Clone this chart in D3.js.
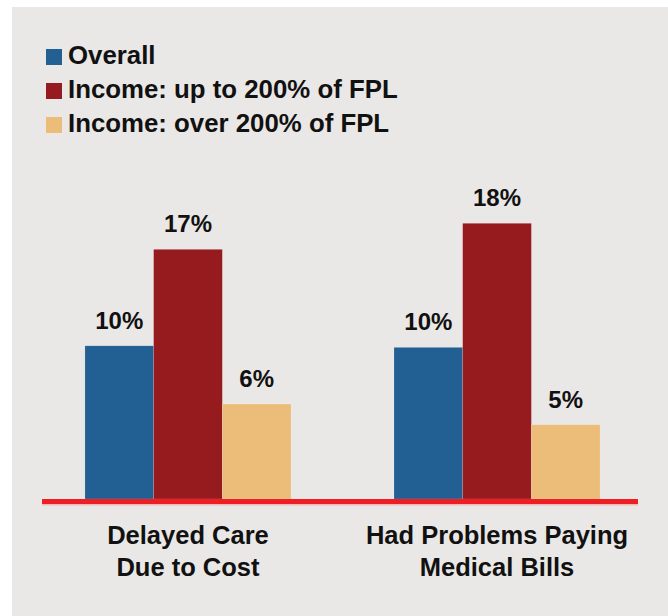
<!DOCTYPE html>
<html>
<head>
<meta charset="utf-8">
<script src="https://cdn.jsdelivr.net/npm/d3@7"></script>
<style>
  html, body { margin: 0; padding: 0; background: #ffffff; }
  svg { display: block; }
</style>
</head>
<body>
<svg id="chart"></svg>
<script>
const width = 668;
const height = 616;

// Groups along the x axis, one entry per text line
const categories = ["Delayed Care|Due to Cost", "Had Problems Paying|Medical Bills"];

// Series, in legend order
const seriesNames = ["Overall", "Income: up to 200% of FPL", "Income: over 200% of FPL"];
const seriesColors = ["#225f93", "#951b1f", "#ebbd78"];

// Bar heights (percent)
const overallValues = [10, 9.9];
const lowIncomeValues = [16.3, 18.0];
const highIncomeValues = [6.2, 4.85];

// Printed labels above the bars
const overallLabels = ["10%", "10%"];
const lowIncomeLabels = ["17%", "18%"];
const highIncomeLabels = ["6%", "5%"];

const seriesValues = [overallValues, lowIncomeValues, highIncomeValues];
const seriesLabels = [overallLabels, lowIncomeLabels, highIncomeLabels];

const layout = {panel: {left: 12, top: 7},
    plot: {left: 42, right: 643, lineRight: 638, baseline: 499, top: 223.3},
    legend: {x: 46, y: 49, box: 16, step: 34, textX: 68},
    font: "'Liberation Sans', Arial, sans-serif"};

const svg = d3.select("#chart")
    .attr("width", width)
    .attr("height", height);

// grey panel
svg.append("rect")
    .attr("x", layout.panel.left)
    .attr("y", layout.panel.top)
    .attr("width", width - layout.panel.left)
    .attr("height", height - layout.panel.top)
    .attr("fill", "#eae8e6");

let x0 = d3.scaleBand()
    .domain(categories)
    .range([layout.plot.left, layout.plot.right])
    .paddingInner(1 / 3)
    .paddingOuter(0.139);

let x1 = d3.scaleBand()
    .domain(d3.range(seriesNames.length))
    .range([0, x0.bandwidth()]);

let y = d3.scaleLinear()
    .domain([0, 18])
    .range([layout.plot.baseline, layout.plot.top]);

// bars + value labels
categories.forEach((cat, ci) =>
{
    let g = svg.append("g").attr("transform", `translate(${x0(cat)},0)`);
    seriesNames.forEach((name, si) =>
    {
        let v = seriesValues[si][ci];
        g.append("rect")
            .attr("x", x1(si))
            .attr("y", y(v))
            .attr("width", x1.bandwidth())
            .attr("height", y(0) - y(v))
            .attr("fill", seriesColors[si])
            .attr("stroke", "rgba(255,255,255,0.25)")
            .attr("stroke-width", 0.6);

        g.append("text")
            .attr("x", x1(si) + x1.bandwidth() / 2)
            .attr("y", y(v) - 17)
            .attr("text-anchor", "middle")
            .style("font-family", layout.font)
            .style("font-weight", "bold")
            .style("font-size", "24px")
            .attr("fill", "#111")
            .text(seriesLabels[si][ci]);
    });
});

// red base line with soft shadow
svg.append("rect")
    .attr("x", layout.plot.left)
    .attr("y", layout.plot.baseline + 5)
    .attr("width", layout.plot.lineRight - layout.plot.left)
    .attr("height", 1.5)
    .attr("fill", "#f2b9b9");
svg.append("rect")
    .attr("x", layout.plot.left)
    .attr("y", layout.plot.baseline)
    .attr("width", layout.plot.lineRight - layout.plot.left)
    .attr("height", 5)
    .attr("fill", "#ed1f24");

// category labels
categories.forEach((cat) =>
{
    let lines = cat.split("|");
    let t = svg.append("text")
        .attr("text-anchor", "middle")
        .style("font-family", layout.font)
        .style("font-weight", "bold")
        .style("font-size", "25.5px")
        .attr("fill", "#111");
    lines.forEach((line, i) =>
    {
        t.append("tspan")
            .attr("x", x0(cat) + x0.bandwidth() / 2)
            .attr("y", 544 + i * 32)
            .text(line);
    });
});

// legend
let legend = svg.append("g");
seriesNames.forEach((name, i) =>
{
    let ly = layout.legend.y + i * layout.legend.step;
    legend.append("rect")
        .attr("x", layout.legend.x)
        .attr("y", ly)
        .attr("width", layout.legend.box)
        .attr("height", layout.legend.box)
        .attr("fill", seriesColors[i]);
    legend.append("text")
        .attr("x", layout.legend.textX)
        .attr("y", ly + layout.legend.box - 1)
        .style("font-family", layout.font)
        .style("font-weight", "bold")
        .style("font-size", "25.8px")
        .attr("fill", "#111")
        .text(name);
});
</script>
</body>
</html>
